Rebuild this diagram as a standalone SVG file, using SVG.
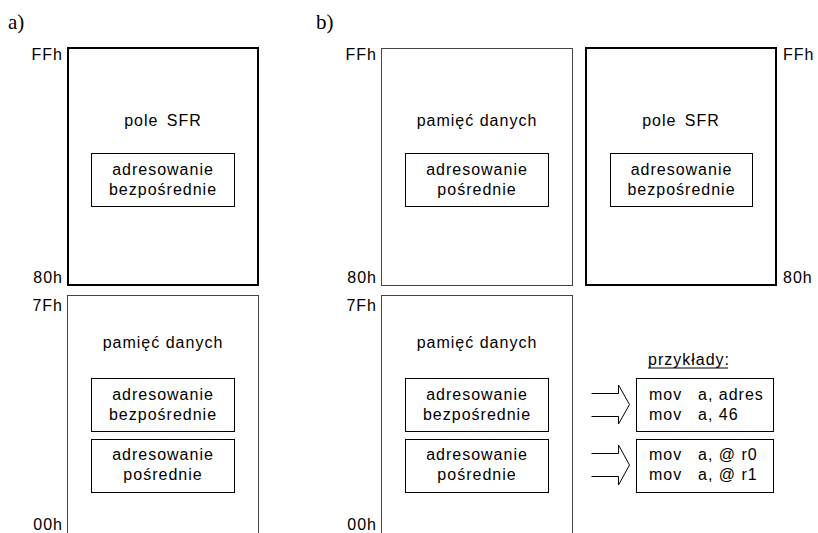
<svg xmlns="http://www.w3.org/2000/svg" width="818" height="533" viewBox="0 0 818 533">
<style>
text{font-family:"Liberation Sans",Arial,sans-serif;font-size:16px;letter-spacing:1px;fill:#000}
.c{text-anchor:middle}
.r{text-anchor:end}
.cap{font-family:"Liberation Serif","Times New Roman",serif;font-size:21px;letter-spacing:0}
.thick{fill:none;stroke:#000;stroke-width:2}
.thin{fill:none;stroke:#444;stroke-width:1}
.inner{fill:none;stroke:#000;stroke-width:1}
.arr{fill:none;stroke:#000;stroke-width:1}
</style>
<rect width="818" height="533" fill="#fff"/>
<text class="cap" x="8" y="29">a)</text>
<text class="cap" x="316" y="29">b)</text>

<g id="a-sfr">
<rect class="thick" x="68" y="48" width="190" height="237"/>
<text class="r" x="63" y="60">FFh</text>
<text class="r" x="63" y="283">80h</text>
<text class="c" x="163" y="126" word-spacing="3">pole SFR</text>
<rect class="inner" x="91.5" y="153.5" width="143" height="53"/>
<text class="c" x="163" y="175">adresowanie</text>
<text class="c" x="163" y="195">bezpośrednie</text>
</g>

<g id="a-data">
<rect class="thin" x="67.5" y="295.5" width="191" height="250"/>
<text class="r" x="63" y="311">7Fh</text>
<text class="r" x="63" y="530">00h</text>
<text class="c" x="163" y="348">pamięć danych</text>
<rect class="inner" x="91.5" y="378.5" width="143" height="53"/>
<text class="c" x="163" y="400">adresowanie</text>
<text class="c" x="163" y="420">bezpośrednie</text>
<rect class="inner" x="91.5" y="439.5" width="143" height="53"/>
<text class="c" x="163" y="460">adresowanie</text>
<text class="c" x="163" y="480">pośrednie</text>
</g>

<g id="b-upper-data">
<rect class="thin" x="381.5" y="48.5" width="191" height="237"/>
<text class="r" x="377" y="60">FFh</text>
<text class="r" x="377" y="283">80h</text>
<text class="c" x="477" y="126">pamięć danych</text>
<rect class="inner" x="405.5" y="153.5" width="143" height="53"/>
<text class="c" x="477" y="175">adresowanie</text>
<text class="c" x="477" y="195">pośrednie</text>
</g>

<g id="b-sfr">
<rect class="thick" x="586" y="48" width="190" height="237"/>
<text x="783" y="60">FFh</text>
<text x="783" y="283">80h</text>
<text class="c" x="681" y="126" word-spacing="3">pole SFR</text>
<rect class="inner" x="610.5" y="153.5" width="142" height="53"/>
<text class="c" x="681.5" y="175">adresowanie</text>
<text class="c" x="681.5" y="195">bezpośrednie</text>
</g>

<g id="b-lower-data">
<rect class="thin" x="381.5" y="295.5" width="191" height="250"/>
<text class="r" x="377" y="311">7Fh</text>
<text class="r" x="377" y="530">00h</text>
<text class="c" x="477" y="348">pamięć danych</text>
<rect class="inner" x="405.5" y="378.5" width="143" height="53"/>
<text class="c" x="477" y="400">adresowanie</text>
<text class="c" x="477" y="420">bezpośrednie</text>
<rect class="inner" x="405.5" y="439.5" width="143" height="53"/>
<text class="c" x="477" y="460">adresowanie</text>
<text class="c" x="477" y="480">pośrednie</text>
</g>

<g id="examples">
<text x="648" y="365">przykłady:</text>
<line x1="648" y1="368" x2="728" y2="368" stroke="#000" stroke-width="1"/>
<rect class="inner" x="636.5" y="378.5" width="137" height="53"/>
<text x="649" y="400">mov</text><text x="698" y="400">a, adres</text>
<text x="649" y="420">mov</text><text x="698" y="420">a, 46</text>
<rect class="inner" x="636.5" y="439.5" width="137" height="53"/>
<text x="649" y="460">mov</text><text x="698" y="460">a, @ r0</text>
<text x="649" y="480">mov</text><text x="698" y="480">a, @ r1</text>
</g>

<g id="connectors">
<path class="arr" d="M591.5,393.5 H618.5 V385 L629.5,404.5 L618.5,424 V416.5 H591.5"/>
<path class="arr" d="M591.5,453.5 H618.5 V445 L629.5,465 L618.5,485 V476.5 H591.5"/>
</g>
</svg>
